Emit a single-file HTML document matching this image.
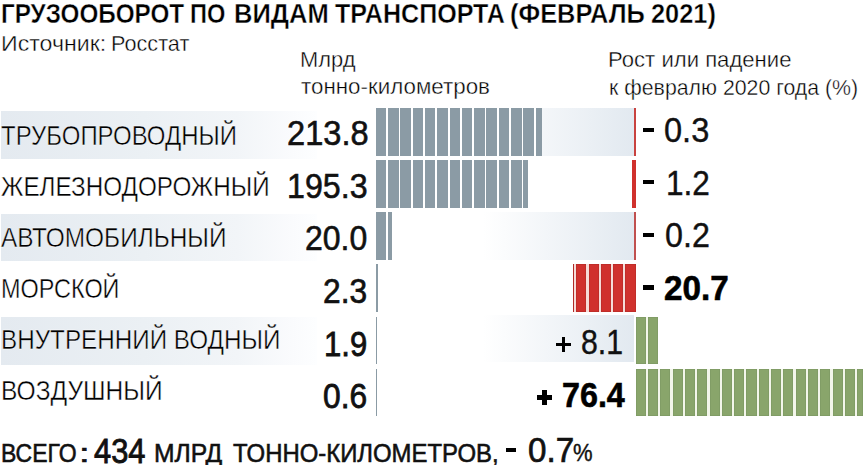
<!DOCTYPE html><html><head><meta charset="utf-8"><style>
*{margin:0;padding:0}
html,body{width:866px;height:465px;overflow:hidden;background:#fff}
body{position:relative;font-family:"Liberation Sans",sans-serif;color:#111}
.t{position:absolute;white-space:nowrap;line-height:1;transform-origin:0 0}
.a{position:absolute}
</style></head><body>
<div class="a" style="left:1.00px;top:111.00px;width:316.00px;height:48.00px;background:linear-gradient(90deg,#e4eaf0 0%,#ebf0f4 45%,#f2f5f8 75%,#fafbfd 92%,#fdfeff 100%);"></div>
<div class="a" style="left:1.00px;top:213.80px;width:316.00px;height:47.20px;background:linear-gradient(90deg,#e4eaf0 0%,#ebf0f4 45%,#f2f5f8 75%,#fafbfd 92%,#fdfeff 100%);"></div>
<div class="a" style="left:1.00px;top:316.50px;width:316.00px;height:48.00px;background:linear-gradient(90deg,#e4eaf0 0%,#ebf0f4 45%,#f2f5f8 75%,#fafbfd 92%,#fdfeff 100%);"></div>
<div class="a" style="left:483.00px;top:108.20px;width:151.30px;height:48.10px;background:linear-gradient(90deg,#fff 0%,#e2e9f0 100%);"></div>
<div class="a" style="left:483.00px;top:212.00px;width:151.30px;height:48.00px;background:linear-gradient(90deg,#fff 0%,#e2e9f0 100%);"></div>
<div class="a" style="left:483.00px;top:314.80px;width:151.30px;height:47.70px;background:linear-gradient(90deg,#fff 0%,#e2e9f0 100%);"></div>
<div class="a" style="left:375.90px;top:108.00px;width:166.10px;height:48.00px;background:#8b9ba5;"></div>
<div class="a" style="left:386.20px;top:108.00px;width:1.90px;height:48.00px;background:#fff;"></div>
<div class="a" style="left:398.50px;top:108.00px;width:1.90px;height:48.00px;background:#fff;"></div>
<div class="a" style="left:410.80px;top:108.00px;width:1.90px;height:48.00px;background:#fff;"></div>
<div class="a" style="left:423.10px;top:108.00px;width:1.90px;height:48.00px;background:#fff;"></div>
<div class="a" style="left:435.40px;top:108.00px;width:1.90px;height:48.00px;background:#fff;"></div>
<div class="a" style="left:447.70px;top:108.00px;width:1.90px;height:48.00px;background:#fff;"></div>
<div class="a" style="left:460.00px;top:108.00px;width:1.90px;height:48.00px;background:#fff;"></div>
<div class="a" style="left:472.30px;top:108.00px;width:1.90px;height:48.00px;background:#fff;"></div>
<div class="a" style="left:484.60px;top:108.00px;width:1.90px;height:48.00px;background:#fff;"></div>
<div class="a" style="left:496.90px;top:108.00px;width:1.90px;height:48.00px;background:#fff;"></div>
<div class="a" style="left:509.20px;top:108.00px;width:1.90px;height:48.00px;background:#fff;"></div>
<div class="a" style="left:521.50px;top:108.00px;width:1.90px;height:48.00px;background:#fff;"></div>
<div class="a" style="left:533.80px;top:108.00px;width:1.90px;height:48.00px;background:#fff;"></div>
<div class="a" style="left:375.90px;top:160.00px;width:152.10px;height:48.00px;background:#8b9ba5;"></div>
<div class="a" style="left:386.20px;top:160.00px;width:1.90px;height:48.00px;background:#fff;"></div>
<div class="a" style="left:398.50px;top:160.00px;width:1.90px;height:48.00px;background:#fff;"></div>
<div class="a" style="left:410.80px;top:160.00px;width:1.90px;height:48.00px;background:#fff;"></div>
<div class="a" style="left:423.10px;top:160.00px;width:1.90px;height:48.00px;background:#fff;"></div>
<div class="a" style="left:435.40px;top:160.00px;width:1.90px;height:48.00px;background:#fff;"></div>
<div class="a" style="left:447.70px;top:160.00px;width:1.90px;height:48.00px;background:#fff;"></div>
<div class="a" style="left:460.00px;top:160.00px;width:1.90px;height:48.00px;background:#fff;"></div>
<div class="a" style="left:472.30px;top:160.00px;width:1.90px;height:48.00px;background:#fff;"></div>
<div class="a" style="left:484.60px;top:160.00px;width:1.90px;height:48.00px;background:#fff;"></div>
<div class="a" style="left:496.90px;top:160.00px;width:1.90px;height:48.00px;background:#fff;"></div>
<div class="a" style="left:509.20px;top:160.00px;width:1.90px;height:48.00px;background:#fff;"></div>
<div class="a" style="left:521.50px;top:160.00px;width:1.90px;height:48.00px;background:#fff;"></div>
<div class="a" style="left:375.90px;top:212.00px;width:16.10px;height:47.60px;background:#8b9ba5;"></div>
<div class="a" style="left:386.20px;top:212.00px;width:1.90px;height:47.60px;background:#fff;"></div>
<div class="a" style="left:375.90px;top:264.40px;width:1.79px;height:47.80px;background:#8b9ba5;"></div>
<div class="a" style="left:375.90px;top:317.30px;width:1.48px;height:46.90px;background:#8b9ba5;"></div>
<div class="a" style="left:375.90px;top:369.00px;width:1.20px;height:47.00px;background:#8b9ba5;"></div>
<div class="a" style="left:633.70px;top:108.20px;width:2.00px;height:48.10px;background:#c8423f;"></div>
<div class="a" style="left:631.50px;top:160.30px;width:4.20px;height:47.70px;background:#d0312d;"></div>
<div class="a" style="left:634.20px;top:212.00px;width:1.50px;height:48.00px;background:#c0504f;"></div>
<div class="a" style="left:572.90px;top:264.40px;width:62.80px;height:47.80px;background:#f6dcd8;"></div>
<div class="a" style="left:625.40px;top:264.40px;width:10.30px;height:47.80px;background:#d0312d;box-shadow:inset 0 0 0 0.5px #b02a26"></div>
<div class="a" style="left:613.10px;top:264.40px;width:10.30px;height:47.80px;background:#d0312d;box-shadow:inset 0 0 0 0.5px #b02a26"></div>
<div class="a" style="left:600.80px;top:264.40px;width:10.30px;height:47.80px;background:#d0312d;box-shadow:inset 0 0 0 0.5px #b02a26"></div>
<div class="a" style="left:588.50px;top:264.40px;width:10.30px;height:47.80px;background:#d0312d;box-shadow:inset 0 0 0 0.5px #b02a26"></div>
<div class="a" style="left:576.20px;top:264.40px;width:10.30px;height:47.80px;background:#d0312d;box-shadow:inset 0 0 0 0.5px #b02a26"></div>
<div class="a" style="left:572.90px;top:264.40px;width:1.30px;height:47.80px;background:#d0312d;box-shadow:inset 0 0 0 0.5px #b02a26"></div>
<div class="a" style="left:635.70px;top:317.30px;width:22.60px;height:46.90px;background:#f3f6ea;"></div>
<div class="a" style="left:635.70px;top:317.30px;width:10.20px;height:46.90px;background:#89a56b;box-shadow:inset 0 0 0 0.5px #7a9563"></div>
<div class="a" style="left:648.00px;top:317.30px;width:10.20px;height:46.90px;background:#89a56b;box-shadow:inset 0 0 0 0.5px #7a9563"></div>
<div class="a" style="left:635.70px;top:369.00px;width:227.60px;height:47.00px;background:#f3f6ea;"></div>
<div class="a" style="left:635.70px;top:369.00px;width:10.20px;height:47.00px;background:#89a56b;box-shadow:inset 0 0 0 0.5px #7a9563"></div>
<div class="a" style="left:648.00px;top:369.00px;width:10.20px;height:47.00px;background:#89a56b;box-shadow:inset 0 0 0 0.5px #7a9563"></div>
<div class="a" style="left:660.30px;top:369.00px;width:10.20px;height:47.00px;background:#89a56b;box-shadow:inset 0 0 0 0.5px #7a9563"></div>
<div class="a" style="left:672.60px;top:369.00px;width:10.20px;height:47.00px;background:#89a56b;box-shadow:inset 0 0 0 0.5px #7a9563"></div>
<div class="a" style="left:684.90px;top:369.00px;width:10.20px;height:47.00px;background:#89a56b;box-shadow:inset 0 0 0 0.5px #7a9563"></div>
<div class="a" style="left:697.20px;top:369.00px;width:10.20px;height:47.00px;background:#89a56b;box-shadow:inset 0 0 0 0.5px #7a9563"></div>
<div class="a" style="left:709.50px;top:369.00px;width:10.20px;height:47.00px;background:#89a56b;box-shadow:inset 0 0 0 0.5px #7a9563"></div>
<div class="a" style="left:721.80px;top:369.00px;width:10.20px;height:47.00px;background:#89a56b;box-shadow:inset 0 0 0 0.5px #7a9563"></div>
<div class="a" style="left:734.10px;top:369.00px;width:10.20px;height:47.00px;background:#89a56b;box-shadow:inset 0 0 0 0.5px #7a9563"></div>
<div class="a" style="left:746.40px;top:369.00px;width:10.20px;height:47.00px;background:#89a56b;box-shadow:inset 0 0 0 0.5px #7a9563"></div>
<div class="a" style="left:758.70px;top:369.00px;width:10.20px;height:47.00px;background:#89a56b;box-shadow:inset 0 0 0 0.5px #7a9563"></div>
<div class="a" style="left:771.00px;top:369.00px;width:10.20px;height:47.00px;background:#89a56b;box-shadow:inset 0 0 0 0.5px #7a9563"></div>
<div class="a" style="left:783.30px;top:369.00px;width:10.20px;height:47.00px;background:#89a56b;box-shadow:inset 0 0 0 0.5px #7a9563"></div>
<div class="a" style="left:795.60px;top:369.00px;width:10.20px;height:47.00px;background:#89a56b;box-shadow:inset 0 0 0 0.5px #7a9563"></div>
<div class="a" style="left:807.90px;top:369.00px;width:10.20px;height:47.00px;background:#89a56b;box-shadow:inset 0 0 0 0.5px #7a9563"></div>
<div class="a" style="left:820.20px;top:369.00px;width:10.20px;height:47.00px;background:#89a56b;box-shadow:inset 0 0 0 0.5px #7a9563"></div>
<div class="a" style="left:832.50px;top:369.00px;width:10.20px;height:47.00px;background:#89a56b;box-shadow:inset 0 0 0 0.5px #7a9563"></div>
<div class="a" style="left:844.80px;top:369.00px;width:10.20px;height:47.00px;background:#89a56b;box-shadow:inset 0 0 0 0.5px #7a9563"></div>
<div class="a" style="left:857.10px;top:369.00px;width:6.20px;height:47.00px;background:#89a56b;box-shadow:inset 0 0 0 0.5px #7a9563"></div>
<div class="a" style="left:643.30px;top:127.60px;width:10.30px;height:4.00px;background:#000;"></div>
<div class="a" style="left:643.40px;top:180.40px;width:10.20px;height:3.80px;background:#000;"></div>
<div class="a" style="left:643.40px;top:232.90px;width:10.20px;height:3.80px;background:#000;"></div>
<div class="a" style="left:643.20px;top:285.20px;width:10.70px;height:4.50px;background:#000;"></div>
<div class="a" style="left:506.30px;top:448.30px;width:10.00px;height:4.00px;background:#000;"></div>
<div class="a" style="left:556.00px;top:342.60px;width:15.00px;height:3.60px;background:#000;"></div>
<div class="a" style="left:561.70px;top:337.00px;width:3.60px;height:14.80px;background:#000;"></div>
<div class="a" style="left:537.00px;top:394.50px;width:15.00px;height:5.20px;background:#000;"></div>
<div class="a" style="left:541.90px;top:389.60px;width:5.20px;height:15.00px;background:#000;"></div>
<div class="t" style="left:0.77px;top:-0.51px;font-size:28px;font-weight:700;transform:scaleX(0.8660);color:#000;-webkit-text-stroke:0.4px #fff;">ГРУЗООБОРОТ</div>
<div class="t" style="left:190.41px;top:-0.51px;font-size:28px;font-weight:700;transform:scaleX(0.8436);color:#000;-webkit-text-stroke:0.4px #fff;">ПО</div>
<div class="t" style="left:233.68px;top:-0.51px;font-size:28px;font-weight:700;transform:scaleX(0.9120);color:#000;-webkit-text-stroke:0.4px #fff;">ВИДАМ</div>
<div class="t" style="left:334.60px;top:-0.51px;font-size:28px;font-weight:700;transform:scaleX(0.8952);color:#000;-webkit-text-stroke:0.4px #fff;">ТРАНСПОРТА</div>
<div class="t" style="left:510.19px;top:-0.51px;font-size:28px;font-weight:700;transform:scaleX(0.9069);color:#000;-webkit-text-stroke:0.4px #fff;">(ФЕВРАЛЬ</div>
<div class="t" style="left:651.29px;top:-0.51px;font-size:28px;font-weight:700;transform:scaleX(0.9058);color:#000;-webkit-text-stroke:0.4px #fff;">2021)</div>
<div class="t" style="left:0.74px;top:32.75px;font-size:22.5px;font-weight:400;transform:scaleX(1.0286);color:#000;-webkit-text-stroke:0.4px #fff;">Источник:</div>
<div class="t" style="left:111.38px;top:32.75px;font-size:22.5px;font-weight:400;transform:scaleX(0.9620);color:#000;-webkit-text-stroke:0.4px #fff;">Росстат</div>
<div class="t" style="left:300.36px;top:48.95px;font-size:22.5px;font-weight:400;transform:scaleX(0.9722);color:#000;-webkit-text-stroke:0.4px #fff;">Млрд</div>
<div class="t" style="left:301.31px;top:76.35px;font-size:22.5px;font-weight:400;transform:scaleX(0.9931);color:#000;-webkit-text-stroke:0.4px #fff;">тонно-километров</div>
<div class="t" style="left:608.23px;top:48.95px;font-size:22.5px;font-weight:400;transform:scaleX(0.9826);color:#000;-webkit-text-stroke:0.4px #fff;">Рост или падение</div>
<div class="t" style="left:608.61px;top:76.65px;font-size:22.5px;font-weight:400;transform:scaleX(0.9462);color:#000;-webkit-text-stroke:0.4px #fff;">к февралю 2020 года (%)</div>
<div class="t" style="left:0.61px;top:122.82px;font-size:26.9px;font-weight:400;transform:scaleX(0.8908);color:#000;-webkit-text-stroke:0.4px #fff;">ТРУБОПРОВОДНЫЙ</div>
<div class="t" style="left:1.10px;top:173.82px;font-size:26.9px;font-weight:400;transform:scaleX(0.9014);color:#000;-webkit-text-stroke:0.4px #fff;">ЖЕЛЕЗНОДОРОЖНЫЙ</div>
<div class="t" style="left:0.59px;top:224.82px;font-size:26.9px;font-weight:400;transform:scaleX(0.9082);color:#000;-webkit-text-stroke:0.4px #fff;">АВТОМОБИЛЬНЫЙ</div>
<div class="t" style="left:1.26px;top:275.82px;font-size:26.9px;font-weight:400;transform:scaleX(0.8712);color:#000;-webkit-text-stroke:0.4px #fff;">МОРСКОЙ</div>
<div class="t" style="left:1.20px;top:326.82px;font-size:26.9px;font-weight:400;transform:scaleX(0.9016);color:#000;-webkit-text-stroke:0.4px #fff;">ВНУТРЕННИЙ ВОДНЫЙ</div>
<div class="t" style="left:1.17px;top:377.72px;font-size:26.9px;font-weight:400;transform:scaleX(0.9133);color:#000;-webkit-text-stroke:0.4px #fff;">ВОЗДУШНЫЙ</div>
<div class="t" style="left:286.77px;top:114.87px;font-size:35px;font-weight:400;transform:scaleX(0.9318);-webkit-text-stroke:0.6px #111;">213.8</div>
<div class="t" style="left:287.46px;top:167.87px;font-size:35px;font-weight:400;transform:scaleX(0.9202);-webkit-text-stroke:0.6px #111;">195.3</div>
<div class="t" style="left:305.39px;top:220.47px;font-size:35px;font-weight:400;transform:scaleX(0.9136);-webkit-text-stroke:0.6px #111;">20.0</div>
<div class="t" style="left:323.09px;top:273.17px;font-size:35px;font-weight:400;transform:scaleX(0.9064);-webkit-text-stroke:0.7px #111;">2.3</div>
<div class="t" style="left:324.23px;top:325.57px;font-size:35px;font-weight:400;transform:scaleX(0.8870);-webkit-text-stroke:0.8px #111;">1.9</div>
<div class="t" style="left:323.29px;top:377.87px;font-size:35px;font-weight:400;transform:scaleX(0.9064);-webkit-text-stroke:0.8px #111;">0.6</div>
<div class="t" style="left:664.37px;top:112.37px;font-size:35px;font-weight:400;transform:scaleX(0.9304);-webkit-text-stroke:0.4px #111;">0.3</div>
<div class="t" style="left:665.60px;top:164.97px;font-size:35px;font-weight:400;transform:scaleX(0.9022);-webkit-text-stroke:0.4px #111;">1.2</div>
<div class="t" style="left:664.68px;top:217.37px;font-size:35px;font-weight:400;transform:scaleX(0.9217);-webkit-text-stroke:0.4px #111;">0.2</div>
<div class="t" style="left:664.15px;top:269.77px;font-size:35px;font-weight:700;transform:scaleX(0.9500);-webkit-text-stroke:0.6px #000;color:#000;">20.7</div>
<div class="t" style="left:581.13px;top:324.17px;font-size:35px;font-weight:400;transform:scaleX(0.8652);-webkit-text-stroke:0.4px #111;">8.1</div>
<div class="t" style="left:561.98px;top:376.67px;font-size:35px;font-weight:700;transform:scaleX(0.9221);-webkit-text-stroke:0.6px #000;color:#000;">76.4</div>
<div class="t" style="left:1.28px;top:439.69px;font-size:26.7px;font-weight:400;transform:scaleX(0.8612);-webkit-text-stroke:0.6px #111;">ВСЕГО</div>
<div class="t" style="left:78.53px;top:439.69px;font-size:26.7px;font-weight:400;transform:scaleX(1.4333);-webkit-text-stroke:0.6px #111;">:</div>
<div class="t" style="left:94.40px;top:432.67px;font-size:35px;font-weight:400;transform:scaleX(0.8810);-webkit-text-stroke:0.9px #111;">434</div>
<div class="t" style="left:154.35px;top:439.69px;font-size:26.7px;font-weight:400;transform:scaleX(0.9250);-webkit-text-stroke:0.6px #111;">МЛРД</div>
<div class="t" style="left:232.90px;top:439.69px;font-size:26.7px;font-weight:400;transform:scaleX(0.8959);-webkit-text-stroke:0.6px #111;">ТОННО-КИЛОМЕТРОВ,</div>
<div class="t" style="left:527.55px;top:432.17px;font-size:35px;font-weight:400;transform:scaleX(0.9478);-webkit-text-stroke:0.7px #111;">0.7</div>
<div class="t" style="left:573.26px;top:441.90px;font-size:23.5px;font-weight:400;transform:scaleX(0.9368);-webkit-text-stroke:0.4px #111;">%</div>
</body></html>
